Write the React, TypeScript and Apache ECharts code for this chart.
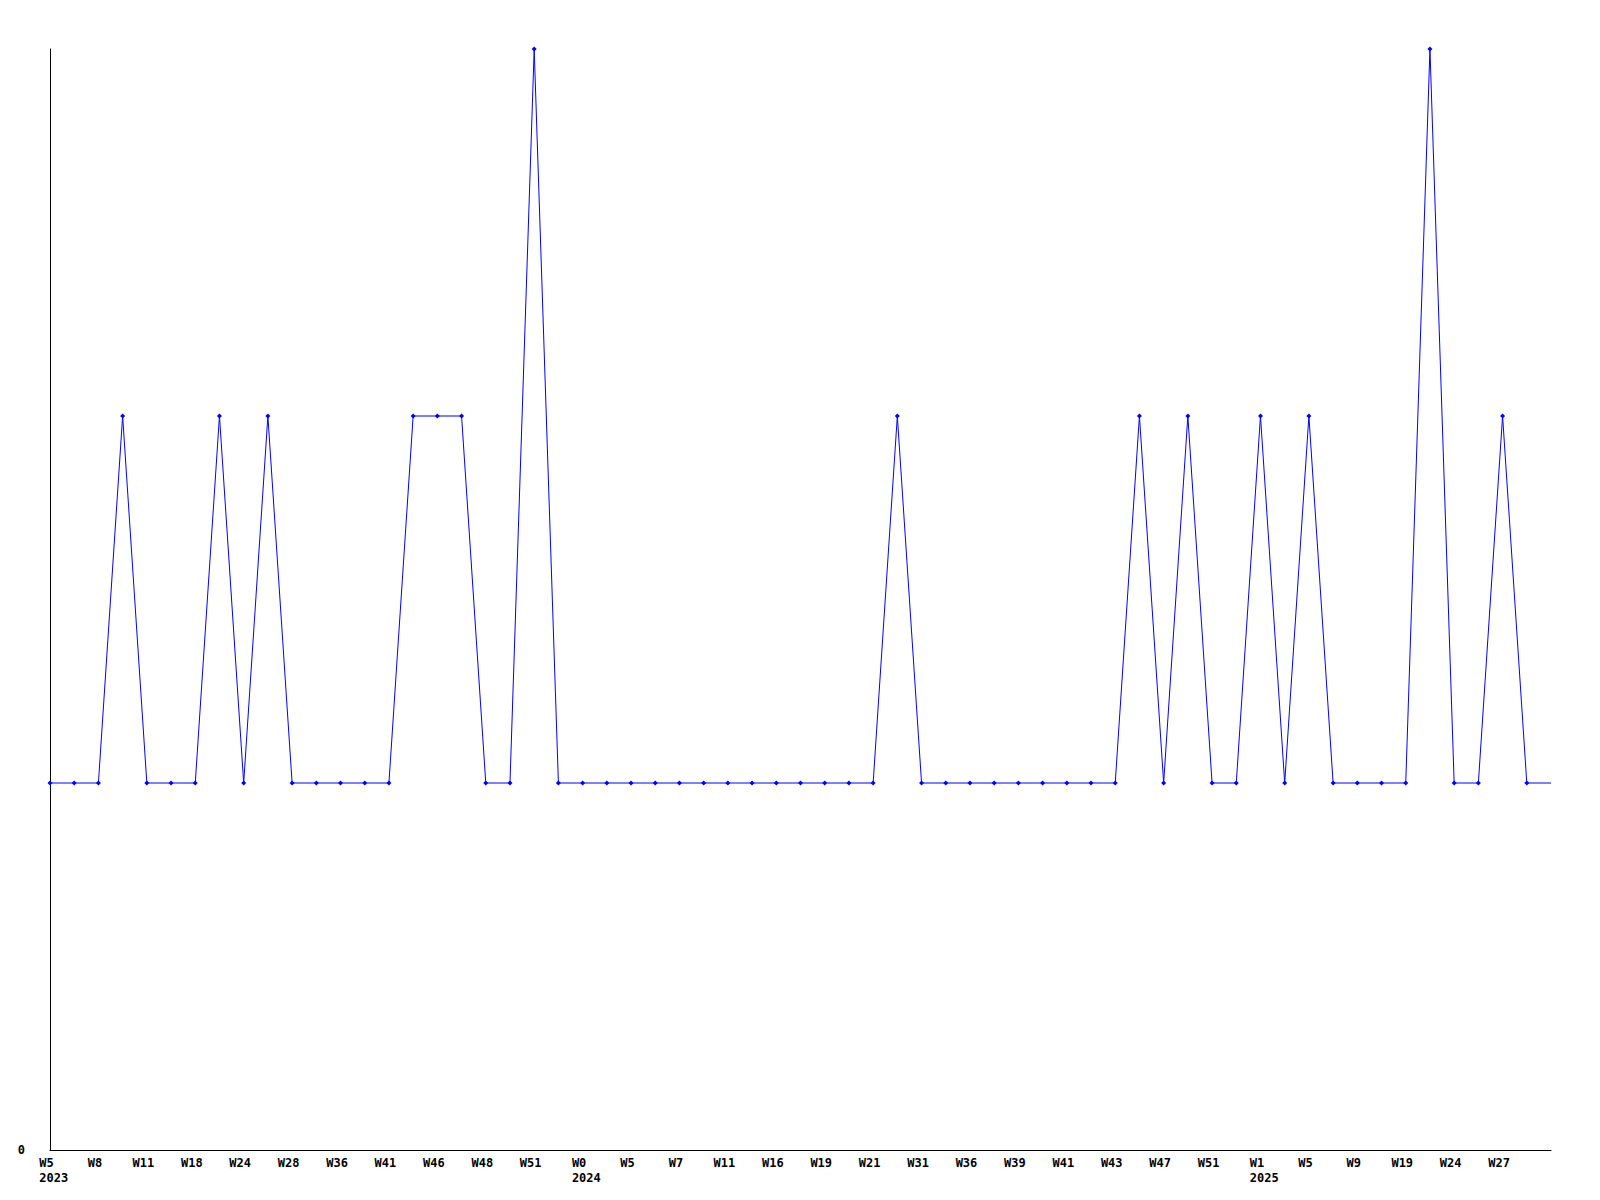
import React, { useEffect, useRef } from "react";
import * as echarts from "echarts";

const weeks: string[] = [
  "W5", "W7", "W8", "W10", "W11", "W14", "W18", "W22", "W24", "W26",
  "W28", "W33", "W36", "W39", "W41", "W44", "W46", "W47", "W48", "W50",
  "W51", "W52", "W0", "W2", "W5", "W6", "W7", "W9", "W11", "W14",
  "W16", "W17", "W19", "W20", "W21", "W26", "W31", "W34", "W36", "W37",
  "W39", "W40", "W41", "W42", "W43", "W45", "W47", "W49", "W51", "W52",
  "W1", "W3", "W5", "W7", "W9", "W14", "W19", "W22", "W24", "W25",
  "W27", "W28", "W30",
];

const values: number[] = [
  1, 1, 1, 2, 1, 1, 1, 2, 1, 2,
  1, 1, 1, 1, 1, 2, 2, 2, 1, 1,
  3, 1, 1, 1, 1, 1, 1, 1, 1, 1,
  1, 1, 1, 1, 1, 2, 1, 1, 1, 1,
  1, 1, 1, 1, 1, 2, 1, 2, 1, 1,
  2, 1, 2, 1, 1, 1, 1, 3, 1, 1,
  2, 1, 1,
];

const yearIndex: number[] = [0, 22, 50];
const yearText: string[] = ["2023", "2024", "2025"];

const FONT = "DejaVu Sans Mono";

export default function App() {
  const ref = useRef<HTMLDivElement>(null);
  useEffect(() => {
    if (!ref.current) return;
    const chart = echarts.init(ref.current, null, { renderer: "svg" });
    const lastIdx = values.length - 1;
    const seriesData = values.map((v, i) =>
      i === lastIdx ? { value: v, symbol: "none" } : v
    );
    chart.setOption({
      animation: false,
      backgroundColor: "#ffffff",
      grid: { left: 50, right: 49, top: 49, bottom: 50, containLabel: false },
      xAxis: {
        type: "category",
        data: weeks,
        boundaryGap: false,
        axisLine: { show: true, lineStyle: { color: "#000", width: 1 } },
        axisTick: { show: false },
        splitLine: { show: false },
        axisLabel: {
          interval: (i: number) => i % 2 === 0 && i < lastIdx,
          margin: 5,
          padding: [0, 7, 0, 0],
          fontFamily: FONT,
          fontWeight: "bold",
          fontSize: 12,
          color: "#000",
          formatter: (val: string, i: number) => {
            const k = yearIndex.indexOf(i);
            if (k >= 0) return `{w|${val}}\n{y|${yearText[k]}}`;
            return `{w|${val}}`;
          },
          rich: {
            w: { fontFamily: FONT, fontWeight: "bold", fontSize: 12, color: "#000", align: "left", lineHeight: 15 },
            y: { fontFamily: FONT, fontWeight: "bold", fontSize: 12, color: "#000", align: "left", lineHeight: 15, width: 10 },
          },
        },
      },
      yAxis: {
        type: "value",
        min: 0,
        max: 3,
        interval: 1,
        axisLine: { show: true, lineStyle: { color: "#000", width: 1 } },
        axisTick: { show: false },
        splitLine: { show: false },
        axisLabel: {
          margin: 25,
          fontFamily: FONT,
          fontWeight: "bold",
          fontSize: 12,
          color: "#000",
          formatter: (v: number) => (v === 0 ? "0" : ""),
        },
      },
      series: [
        {
          type: "line",
          data: seriesData,
          symbol: "diamond",
          symbolSize: 5,
          showAllSymbol: true,
          lineStyle: { color: "#0000ff", width: 1 },
          itemStyle: { color: "#0000ff" },
        },
      ],
    });
    return () => chart.dispose();
  }, []);
  return (
    <div
      ref={ref}
      style={{ position: "fixed", left: 0, top: 0, width: 1600, height: 1200, background: "#fff" }}
    />
  );
}
